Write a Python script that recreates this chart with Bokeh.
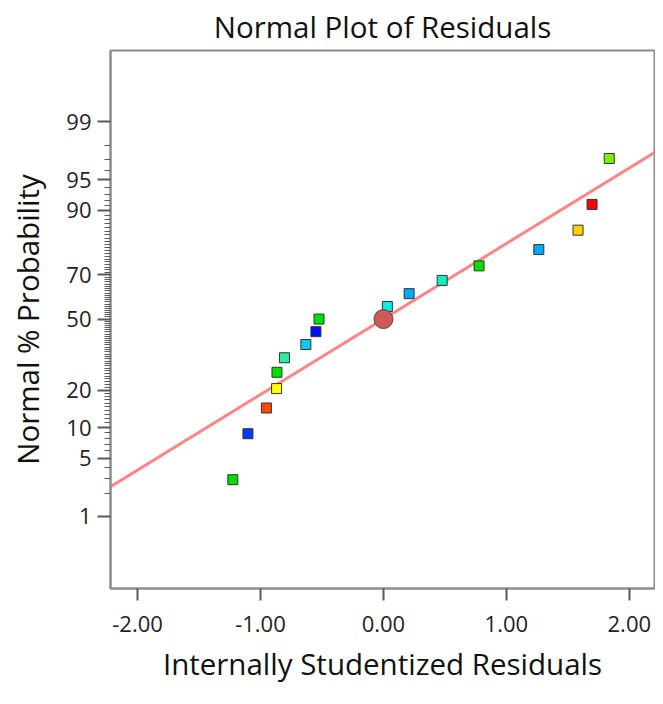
from statistics import NormalDist
from bokeh.plotting import figure
from bokeh.models import FixedTicker, Range1d, ColumnDataSource, PrintfTickFormatter
from bokeh.embed import file_html
from bokeh.resources import INLINE

# ---- data ----
residuals = [-1.225, -1.102, -0.952, -0.869, -0.866, -0.805, -0.631, -0.549, -0.524,
             0.032, 0.209, 0.478, 0.778, 1.264, 1.583, 1.697, 1.837]
probability = [2.9, 8.8, 14.7, 20.6, 26.5, 32.4, 38.2, 44.1, 50.0,
               55.9, 61.8, 67.6, 73.5, 79.4, 85.3, 91.2, 97.1]
point_colors = ["#00dd00", "#0038ff", "#ff4a00", "#ffff00", "#00e000", "#30eca0",
                "#10c8f0", "#0010f0", "#00e000", "#00f0e0", "#00aaff", "#10f0c0",
                "#00e000", "#00a8ff", "#ffd200", "#ff0000", "#80f000"]
center_x = [0.0]
center_prob = [50.0]
fit_x = [-2.22, 2.205]
fit_slope = 0.891          # normal quantile units per residual unit, line through (0, 50%)
major_pct = [1, 5, 10, 20, 50, 70, 90, 95, 99]
minor_pct = list(range(1, 100))
x_ticks = [-2, -1, 0, 1, 2]

nd = NormalDist()
def q(p):
    return round(nd.inv_cdf(p / 100.0), 6)

src = ColumnDataSource(dict(x=residuals, z=[q(v) for v in probability], c=point_colors))
FONT = "Open Sans"

p = figure(width=655, height=688, x_range=Range1d(-2.22, 2.205), y_range=Range1d(-3.18, 3.17),
           output_backend="svg", toolbar_location=None, title="Normal Plot of Residuals",
           min_border_left=110, min_border_right=1, min_border_top=48, min_border_bottom=100)
p.grid.visible = False
p.background_fill_color = "white"
p.border_fill_color = "white"
p.outline_line_color = "#8c8c8c"
p.outline_line_width = 2

p.title.align = "center"
p.title.text_font = FONT
p.title.text_font_size = "29.5px"
p.title.text_font_style = "normal"
p.title.text_color = "#111111"
p.title.standoff = 7

# fit line
p.line(fit_x, [fit_slope * v for v in fit_x], line_color="#ff8080", line_width=3, line_alpha=0.95)

# points
p.scatter("x", "z", source=src, marker="square", size=10, fill_color="c",
          line_color="#333333", line_width=1)
p.scatter(center_x, [q(v) for v in center_prob], marker="circle", size=19,
          fill_color="#d05858", line_color="#4a4a4a", line_width=1)

# y axis (normal probability)
ya = p.yaxis[0]
ya.ticker = FixedTicker(ticks=[q(v) for v in major_pct], minor_ticks=[q(v) for v in minor_pct])
ya.major_label_overrides = {q(v): str(v) for v in major_pct}
ya.axis_label = "Normal % Probability"
ya.major_tick_out = 13
ya.major_tick_in = 0
ya.minor_tick_out = 6
ya.minor_tick_in = 0
ya.major_label_standoff = 6
ya.axis_label_standoff = 15

xa = p.xaxis[0]
xa.ticker = FixedTicker(ticks=x_ticks)
xa.formatter = PrintfTickFormatter(format="%.2f")
xa.axis_label = "Internally Studentized Residuals"
xa.major_tick_out = 12
xa.major_tick_in = 0
xa.minor_tick_line_color = None
xa.major_label_standoff = 15
xa.axis_label_standoff = 8

for ax in (xa, ya):
    ax.axis_line_color = "#8c8c8c"
    ax.axis_line_width = 2
    ax.major_tick_line_color = "#5a5a5a"
    ax.major_tick_line_width = 2
    ax.minor_tick_line_color = "#5a5a5a" if ax is ya else None
    ax.minor_tick_line_width = 1
    ax.major_label_text_font = FONT
    ax.major_label_text_font_size = "22px"
    ax.major_label_text_color = "#222222"
    ax.axis_label_text_font = FONT
    ax.axis_label_text_font_size = "29.5px"
    ax.axis_label_text_font_style = "normal"
    ax.axis_label_text_color = "#111111"

open("out.html", "w").write(file_html(p, INLINE))
